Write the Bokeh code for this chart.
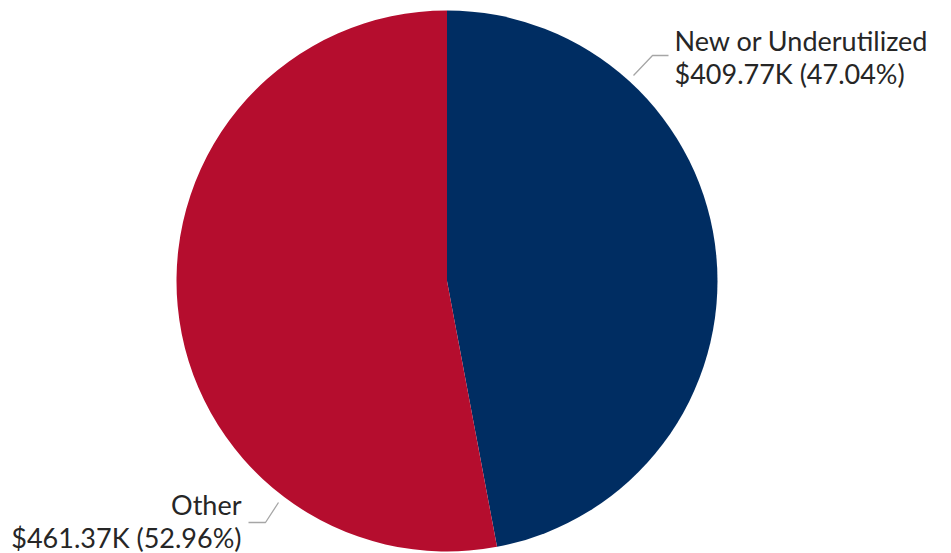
import numpy as np
from bokeh.plotting import figure
from bokeh.models import Range1d
from bokeh.core.properties import value
from bokeh.embed import file_html
from bokeh.resources import INLINE

categories = ["New or Underutilized", "Other"]
amounts_k = [409.77, 461.37]
percents = [47.04, 52.96]
colors = ["#002d62", "#b50d2e"]

W, H = 951, 553
p = figure(width=W, height=H, output_backend="svg", toolbar_location=None,
           x_range=Range1d(0, W), y_range=Range1d(0, H), min_border=0)
p.axis.visible = False
p.grid.visible = False
p.outline_line_color = None
p.background_fill_color = "white"
p.border_fill_color = "white"

cx, cy, r = 446.5, H - 280.5, 270.5
fr = np.array(percents) / sum(percents)
ends = np.pi / 2 - 2 * np.pi * np.cumsum(fr)
starts = np.concatenate([[np.pi / 2], ends[:-1]])
for s, e, c in zip(starts, ends, colors):
    p.wedge(x=cx, y=cy, radius=r, start_angle=e, end_angle=s, fill_color=c,
            line_color=None)

# leader lines
p.line([633, 652, 668], [H - 75, H - 55, H - 55], line_color="#a6a6a6", line_width=1.3)
p.line([278, 265, 248], [H - 502, H - 522, H - 522], line_color="#a6a6a6", line_width=1.3)

font = value("Lato")
tc = "#262626"
lab0 = [categories[0], f"${amounts_k[0]:.2f}K ({percents[0]:.2f}%)"]
lab1 = [categories[1], f"${amounts_k[1]:.2f}K ({percents[1]:.2f}%)"]
p.text(x=[674, 674], y=[H - 40, H - 73], text=lab0, text_font=font,
       text_font_size="27px", text_color=tc, text_baseline="alphabetic",
       text_align="left")
p.text(x=[241, 241], y=[H - 504, H - 537], text=lab1, text_font=font,
       text_font_size="27px", text_color=tc, text_baseline="alphabetic",
       text_align="right")

open("out.html", "w").write(file_html(p, INLINE))
